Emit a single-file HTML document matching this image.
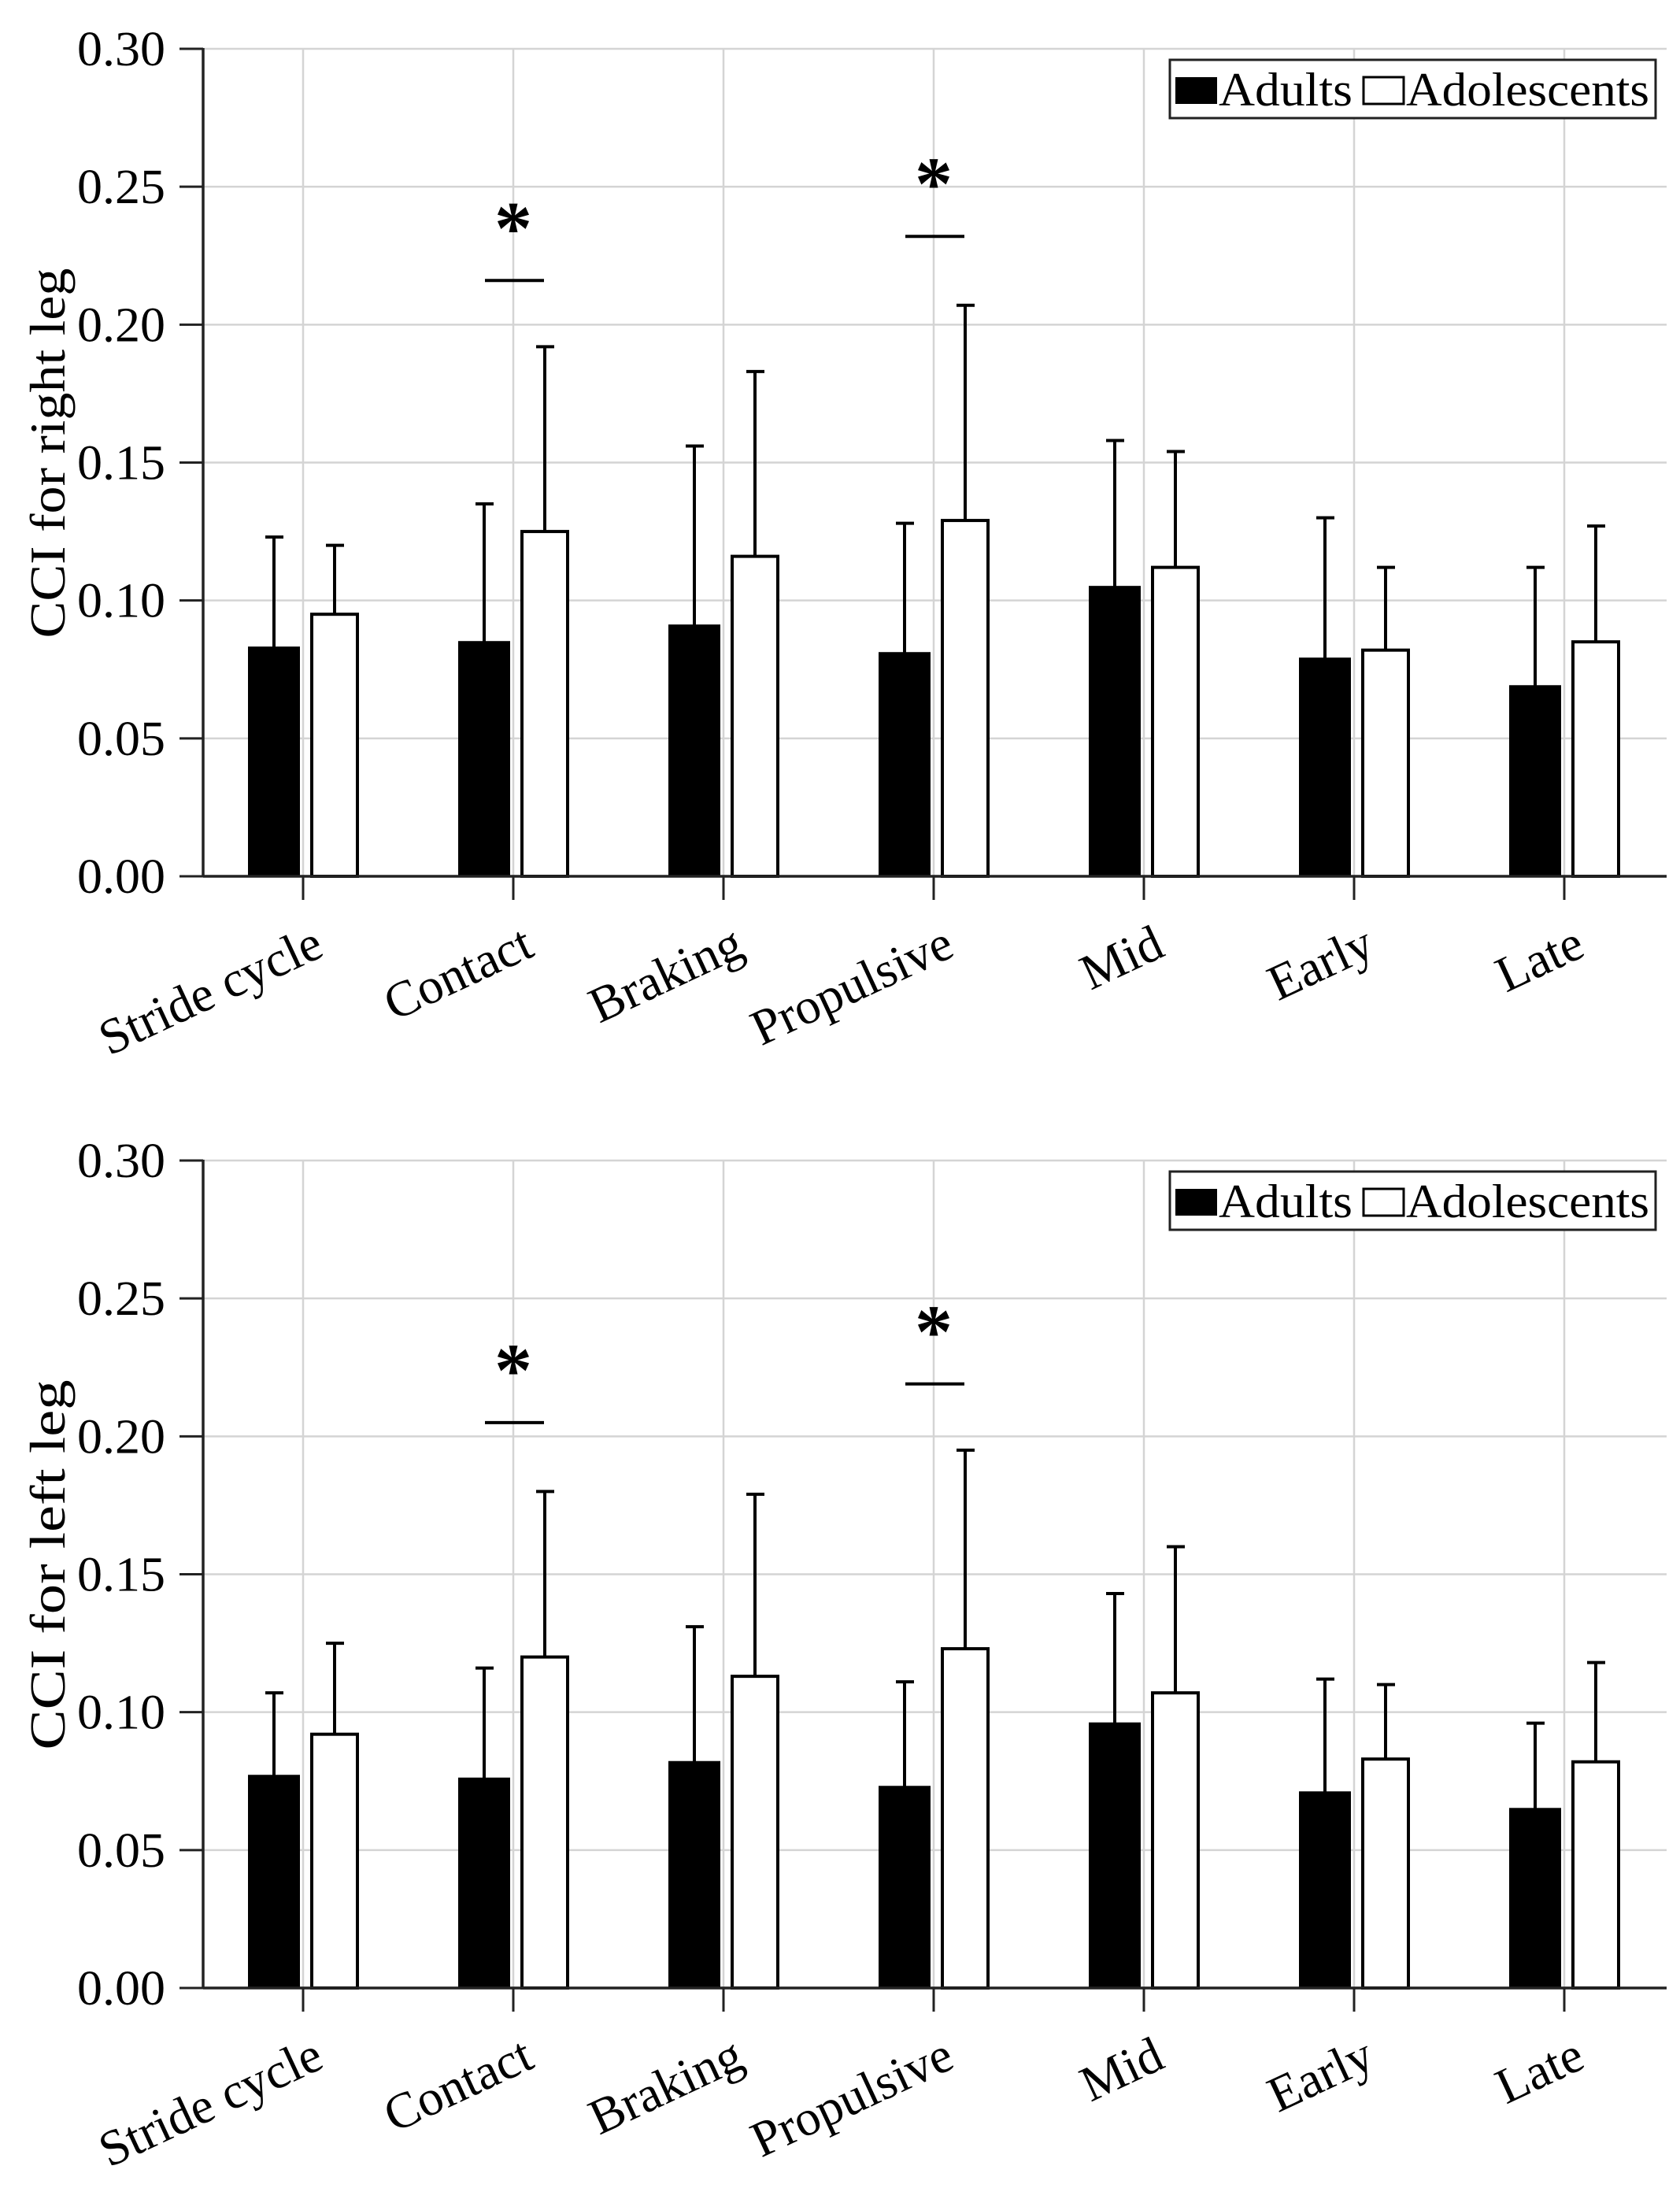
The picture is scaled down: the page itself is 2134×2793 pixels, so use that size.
<!DOCTYPE html>
<html><head><meta charset="utf-8"><style>
html,body{margin:0;padding:0;background:#fff;}
svg{display:block;font-family:"Liberation Serif",serif;}
</style></head><body>
<svg id="chart" width="2134" height="2793" viewBox="0 0 2134 2793" xmlns="http://www.w3.org/2000/svg"></svg>
<script>
const categories = ["Stride cycle","Contact","Braking","Propulsive","Mid","Early","Late"];
const yTicks = [0,0.05,0.10,0.15,0.20,0.25,0.30];
const yTickLabels = ["0.00","0.05","0.10","0.15","0.20","0.25","0.30"];
const rightAdults = [0.083,0.085,0.091,0.081,0.105,0.079,0.069];
const rightAdultsErr = [0.123,0.135,0.156,0.128,0.158,0.130,0.112];
const rightAdol = [0.095,0.125,0.116,0.129,0.112,0.082,0.085];
const rightAdolErr = [0.120,0.192,0.183,0.207,0.154,0.112,0.127];
const rightSigIdx = [1,3];
const rightSigLevel = [0.216,0.232];
const leftAdults = [0.077,0.076,0.082,0.073,0.096,0.071,0.065];
const leftAdultsErr = [0.107,0.116,0.131,0.111,0.143,0.112,0.096];
const leftAdol = [0.092,0.120,0.113,0.123,0.107,0.083,0.082];
const leftAdolErr = [0.125,0.180,0.179,0.195,0.160,0.110,0.118];
const leftSigIdx = [1,3];
const leftSigLevel = [0.205,0.219];

const NS="http://www.w3.org/2000/svg";
const svg=document.getElementById('chart');
function mk(tag,attrs,parent,text){const e=document.createElementNS(NS,tag);for(const k in attrs)e.setAttribute(k,attrs[k]);if(text!==undefined)e.textContent=text;(parent||svg).appendChild(e);return e;}

function panel(top,title,adults,adultsErr,adol,adolErr,sigIdx,sigLevel,pname){
  const g=mk('g',{});
  
  
  const x0=258,x1=2117,y0=top+1051,yTop=top;
  const y=v=>y0-(v/0.30)*(y0-yTop);
  const xc=i=>385+267*i;
  yTicks.forEach(t=>{const l=mk('line',{x1:x0,x2:x1,y1:y(t),y2:y(t),stroke:'#d4d4d4','stroke-width':2.5},g);
    });
  categories.forEach((c,i)=>{const l=mk('line',{x1:xc(i),x2:xc(i),y1:yTop,y2:y0,stroke:'#d4d4d4','stroke-width':2.5},g);
    });
  categories.forEach((c,i)=>{
    const cx=xc(i);
    const e1=mk('line',{x1:cx-37,x2:cx-37,y1:y(adults[i]),y2:y(adultsErr[i]),stroke:'#000','stroke-width':4},g);
    
    mk('line',{x1:cx-48,x2:cx-25,y1:y(adultsErr[i]),y2:y(adultsErr[i]),stroke:'#000','stroke-width':4},g);
    const e2=mk('line',{x1:cx+40,x2:cx+40,y1:y(adol[i]),y2:y(adolErr[i]),stroke:'#000','stroke-width':4},g);
    
    mk('line',{x1:cx+29,x2:cx+52,y1:y(adolErr[i]),y2:y(adolErr[i]),stroke:'#000','stroke-width':4},g);
    const b1=mk('rect',{x:cx-69,y:y(adults[i]),width:64,height:y0-y(adults[i]),fill:'#000',stroke:'#000','stroke-width':2},g);
    
    const b2=mk('rect',{x:cx+11,y:y(adol[i]),width:58,height:y0-y(adol[i]),fill:'#fff',stroke:'#000','stroke-width':4},g);
    
    mk('line',{x1:cx,x2:cx,y1:y0,y2:y0+30,stroke:'#222','stroke-width':3},g);
    const lx=cx+29,ly=y0+100;
    const t=mk('text',{x:lx,y:ly,'text-anchor':'end','font-size':64,transform:`rotate(-25 ${lx} ${ly})`},g,c);
    
  });
  sigIdx.forEach((ci,k)=>{
    const cx=xc(ci),yy=y(sigLevel[k]);
    const l=mk('line',{x1:cx-36,x2:cx+39,y1:yy,y2:yy,stroke:'#000','stroke-width':4},g);
    
    const s=mk('text',{x:cx,y:yy-34,'text-anchor':'middle','font-size':96,'font-weight':'bold'},g,'*');
    
  });
  mk('line',{x1:x0,x2:x0,y1:yTop-1,y2:y0,stroke:'#222','stroke-width':3.5},g);
  mk('line',{x1:x0,x2:x1,y1:y0,y2:y0,stroke:'#222','stroke-width':3.5},g);
  yTicks.forEach((t,i)=>{
    mk('line',{x1:x0-30,x2:x0,y1:y(t),y2:y(t),stroke:'#222','stroke-width':3},g);
    const tl=mk('text',{x:98,y:y(t)+21,'font-size':62,textLength:112,lengthAdjust:'spacingAndGlyphs'},g,yTickLabels[i]);
    
  });
  const yc=(yTop+y0)/2-12;
  const yt=mk('text',{x:82,y:yc,'text-anchor':'middle','font-size':64,textLength:470,lengthAdjust:'spacingAndGlyphs',transform:`rotate(-90 82 ${yc})`},g,title);
  
  const ly0=top+14;
  const lg=mk('g',{},g);
  
  mk('rect',{x:1486,y:ly0,width:617,height:74,fill:'#fff',stroke:'#222','stroke-width':3},lg);
  mk('rect',{x:1493,y:ly0+22,width:53,height:34,fill:'#000'},lg);
  const a=mk('text',{x:1548,y:ly0+58,'font-size':60,textLength:170,lengthAdjust:'spacingAndGlyphs'},lg,'Adults');
  
  mk('rect',{x:1732,y:ly0+22,width:51,height:34,fill:'#fff',stroke:'#000','stroke-width':3},lg);
  const b=mk('text',{x:1786,y:ly0+58,'font-size':60,textLength:309,lengthAdjust:'spacingAndGlyphs'},lg,'Adolescents');
  
}
panel(62,'CCI for right leg',rightAdults,rightAdultsErr,rightAdol,rightAdolErr,rightSigIdx,rightSigLevel,'right-leg-panel');
panel(1474,'CCI for left leg',leftAdults,leftAdultsErr,leftAdol,leftAdolErr,leftSigIdx,leftSigLevel,'left-leg-panel');
</script>
</body></html>
